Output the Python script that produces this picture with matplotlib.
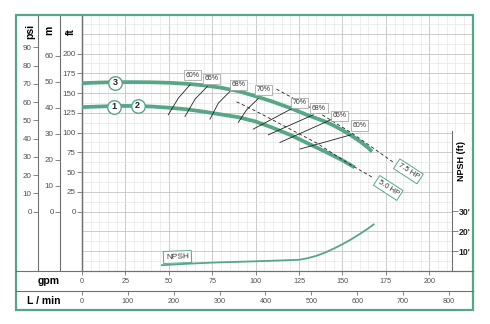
import matplotlib
matplotlib.use('Agg')
import matplotlib.pyplot as plt
from matplotlib.lines import Line2D
from matplotlib.patches import Rectangle

plt.rcParams['font.family'] = ['Liberation Sans', 'DejaVu Sans']

# ---------------- data ----------------
curve_hi_gpm = [0, 10, 20, 30, 40, 50, 60, 70, 80, 90, 100, 110, 120, 130, 140, 145, 150, 155, 160, 165, 167]
curve_hi_ft = [162.5, 163.3, 163.8, 163.8, 163.6, 163, 161.8, 159.8, 156.8, 152.5, 146, 139, 131, 122, 114, 109, 103, 96.5, 89, 80.5, 76]
curve_lo_gpm = [0, 10, 20, 30, 40, 50, 60, 70, 80, 90, 100, 110, 120, 130, 140, 150, 157]
curve_lo_ft = [132.2, 133, 133.7, 133.7, 133, 131.5, 129.5, 126.5, 123, 119.5, 114, 106, 97, 86.5, 76, 65, 56]

npsh_gpm = [46, 60, 75, 100, 125, 130, 135, 140, 145, 150, 155, 160, 165, 168]
npsh_ft = [2.9, 3.6, 4.2, 4.85, 5.6, 6.4, 7.6, 9.2, 11.2, 13.4, 15.8, 18.5, 21.4, 23.3]

eff_left_labels = ['60%', '65%', '68%', '70%']
eff_left_gpm = [[49.7, 55.5, 62.2], [59.3, 65.1, 72.2], [73.7, 78.5, 85.2], [90.0, 94.8, 101.5]]
eff_left_ft = [[122.5, 143.6, 160.5], [120.3, 142.3, 158.4], [117.0, 137.2, 152.0], [112.8, 128.8, 143.0]]
eff_left_label_gpm = [63.6, 74.7, 90.4, 104.8]
eff_left_label_ft = [172.8, 168.0, 160.4, 154.4]

eff_right_labels = ['70%', '68%', '65%', '60%']
eff_right_gpm = [[98.6, 121.6], [107.3, 133.2], [114.0, 144.1], [125.5, 154.9]]
eff_right_ft = [[104.4, 131.2], [97.2, 122.5], [87.5, 117.0], [79.2, 97.2]]
eff_right_label_gpm = [125.1, 136.5, 148.2, 159.9]
eff_right_label_ft = [137.6, 130.9, 121.2, 109.0]

hp75_gpm = [112, 132, 155, 179]
hp75_ft = [155, 131, 100, 63]
hp50_gpm = [89, 100.6, 135, 153, 168]
hp50_ft = [139, 126.6, 87, 61.5, 42.5]
hp_labels = ['7.5 HP', '5.0 HP']
hp_label_gpm = [188, 176.4]
hp_label_ft = [51, 30]

curve_ids = ['3', '1', '2']
curve_id_gpm = [19.0, 18.7, 32.0]
curve_id_ft = [162.9, 133.0, 134.0]

gpm_ticks = list(range(0, 201, 25))
lmin_ticks = list(range(0, 801, 100))
psi_ticks = list(range(0, 91, 10))
m_ticks = list(range(0, 61, 10))
ft_ticks = list(range(0, 201, 25))
npsh_ticks = [10, 20, 30]
npsh_ticklabels = ["10'", "20'", "30'"]

# ---------------- style ----------------
W, H = 490, 324
GREEN = '#55a786'
LINE = '#707070'
TXT = '#505050'

def fx(px):
    return px / W

def fy(py):
    return 1 - py / H

fig = plt.figure(figsize=(W / 100, H / 100), dpi=100)
ax = fig.add_axes([fx(82), fy(271), (473 - 82) / W, (271 - 15) / H])
ax.set_xlim(0, 225.2)
ax.set_ylim(-74.5, 248.7)
ax.set_axisbelow(True)

# grid
ax.set_xticks(gpm_ticks)
ax.set_xticks([v for v in range(0, 226, 5) if v % 25], minor=True)
ax.set_yticks([v for v in range(-75, 226, 25)])
ax.set_yticks([v + 12.5 for v in range(-75, 240, 25)], minor=True)
ax.grid(which='major', color='#c4c4c4', lw=0.6)
ax.grid(which='minor', color='#e6e6e6', lw=0.5)
ax.tick_params(axis='y', which='both', length=0, labelleft=False)
ax.tick_params(axis='x', which='minor', length=0)
ax.tick_params(axis='x', which='major', direction='out', length=3, width=0.6, color=LINE,
               labelsize=5.2, labelcolor=TXT, pad=2)
for s in ['top', 'right']:
    ax.spines[s].set_visible(False)
ax.spines['left'].set_color(LINE)
ax.spines['left'].set_linewidth(1.0)
ax.spines['bottom'].set_color(LINE)
ax.spines['bottom'].set_linewidth(0.8)

# white NPSH label column
ax.add_patch(Rectangle((213.1, -80), 20, 179.5, fc='white', ec='none', zorder=1))

# left scales
def add_left_scale(loc, fwd, inv, ticks):
    sa = ax.secondary_yaxis(loc, functions=(fwd, inv))
    sa.set_yticks(ticks)
    sa.tick_params(direction='out', length=3.5, width=0.6, color=LINE, labelsize=5.8,
                   labelcolor=TXT, pad=1)
    sa.spines['left'].set_color(LINE)
    sa.spines['left'].set_linewidth(0.8)
    return sa

add_left_scale(0, lambda f: f, lambda f: f, ft_ticks)
add_left_scale(-22 / 391, lambda f: f / 3.281, lambda m: m * 3.281, m_ticks)
add_left_scale(-44 / 391, lambda f: f / 2.31, lambda p: p * 2.31, psi_ticks)

# L/min scale
sx = ax.secondary_xaxis(-20 / 256, functions=(lambda g: g * 3.785, lambda l: l / 3.785))
sx.set_xticks(lmin_ticks)
sx.tick_params(direction='out', length=3, width=0.6, color=LINE, labelsize=5.2,
               labelcolor=TXT, pad=2)
sx.spines['bottom'].set_visible(False)

# NPSH axis
ax2 = ax.twinx()
ax2.set_ylim(0, 128)
for s in ['left', 'top', 'bottom']:
    ax2.spines[s].set_visible(False)
ax2.spines['right'].set_position(('data', 213.1))
ax2.spines['right'].set_bounds(0, 70)
ax2.spines['right'].set_color(LINE)
ax2.spines['right'].set_linewidth(0.8)
ax2.set_yticks(npsh_ticks)
ax2.set_yticklabels(npsh_ticklabels, fontweight='bold')
ax2.tick_params(direction='out', length=4, width=0.6, color=LINE, labelsize=6.3,
                labelcolor='#222222', pad=1)

# ---------------- marks ----------------
ax.plot(curve_hi_gpm, curve_hi_ft, color=GREEN, lw=2.7, zorder=3, solid_capstyle='butt')
ax.plot(curve_lo_gpm, curve_lo_ft, color=GREEN, lw=2.7, zorder=3, solid_capstyle='butt')

for xs, ys in zip(eff_left_gpm, eff_left_ft):
    ax.plot(xs, ys, color='#222222', lw=0.6, zorder=3.5)
for xs, ys in zip(eff_right_gpm, eff_right_ft):
    ax.plot(xs, ys, color='#222222', lw=0.6, zorder=3.5)

ax.plot(hp75_gpm, hp75_ft, color='#222222', lw=0.6, ls=(0, (4, 3)), zorder=3.5)
ax.plot(hp50_gpm, hp50_ft, color='#222222', lw=0.6, ls=(0, (4, 3)), zorder=3.5)

eff_box = dict(boxstyle='square,pad=0.22', fc='white', ec='#9a9a9a', lw=0.5)
for lab, x, y in zip(eff_left_labels + eff_right_labels,
                     eff_left_label_gpm + eff_right_label_gpm,
                     eff_left_label_ft + eff_right_label_ft):
    ax.text(x, y, lab, fontsize=5.0, color='#333333', ha='center', va='center',
            bbox=eff_box, zorder=4)

hp_box = dict(boxstyle='square,pad=0.3', fc='white', ec=GREEN, lw=0.7)
for lab, x, y in zip(hp_labels, hp_label_gpm, hp_label_ft):
    ax.text(x, y, lab, fontsize=5.5, color='#333333', ha='center', va='center',
            rotation=-33, rotation_mode='anchor', bbox=hp_box, zorder=4)

ax.scatter(curve_id_gpm, curve_id_ft, s=95, facecolor='white', edgecolor=GREEN,
           linewidth=1.0, zorder=5)
for lab, x, y in zip(curve_ids, curve_id_gpm, curve_id_ft):
    ax.text(x, y, lab, fontsize=6.5, fontweight='bold', color='#222222',
            ha='center', va='center', zorder=6)

ax2.plot(npsh_gpm, npsh_ft, color=GREEN, lw=1.3, zorder=3)
ax2.text(55, 7.0, 'NPSH', fontsize=6, color='#333333', ha='center', va='center',
         rotation=2, bbox=dict(boxstyle='square,pad=0.3', fc='white', ec=GREEN, lw=0.7),
         zorder=4)

# ---------------- frame & labels ----------------
fig.add_artist(Rectangle((fx(15.5), fy(310)), (473 - 15.5) / W, (310 - 15) / H,
                         transform=fig.transFigure, fill=False, ec=GREEN, lw=1.6))
for py in (271, 291):
    fig.add_artist(Line2D([fx(15.5), fx(473)], [fy(py), fy(py)], transform=fig.transFigure,
                          color=LINE, lw=0.8))

fig.text(fx(30), fy(31), 'psi', rotation=90, fontsize=7.5, fontweight='bold',
         ha='center', va='center')
fig.text(fx(49), fy(30), 'm', rotation=90, fontsize=7.5, fontweight='bold',
         ha='center', va='center')
fig.text(fx(71), fy(32), 'ft', rotation=90, fontsize=7.5, fontweight='bold',
         ha='center', va='center')
fig.text(fx(461.5), fy(161), 'NPSH (ft)', rotation=90, fontsize=6.5, fontweight='bold',
         ha='center', va='center')
fig.text(fx(49), fy(280.5), 'gpm', fontsize=7.5, fontweight='bold', ha='center', va='center')
fig.text(fx(44), fy(300.5), 'L / min', fontsize=7.5, fontweight='bold', ha='center', va='center')

fig.savefig('out.png', dpi=100, facecolor='white')
